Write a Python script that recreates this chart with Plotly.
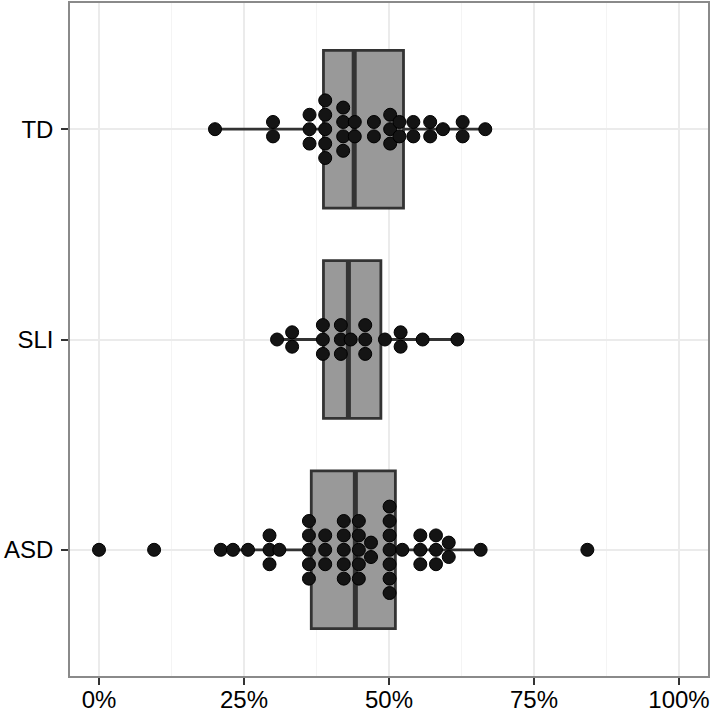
import plotly.graph_objects as go
from collections import Counter

# ---- data (percent values) ----
groups = ["ASD", "SLI", "TD"]
group_pos = [1, 2, 3]

td_values = [20.0, 30.0, 30.0, 36.3, 36.3, 36.3, 39.0, 39.0, 39.0, 39.0, 39.0,
             42.1, 42.1, 42.1, 42.1, 44.1, 44.1, 47.4, 47.4, 50.2, 50.2, 50.2,
             51.8, 51.8, 54.2, 54.2, 57.1, 57.1, 59.3, 62.7, 62.7, 66.6]
sli_values = [30.7, 33.3, 33.3, 38.6, 38.6, 38.6, 41.7, 41.7, 41.7, 43.4,
              45.9, 45.9, 45.9, 49.3, 52.0, 52.0, 55.8, 61.8]
asd_values = [0.0, 9.5, 21.0, 23.1, 25.7, 29.4, 29.4, 29.4, 31.1,
              36.2, 36.2, 36.2, 36.2, 36.2, 39.0, 39.0, 39.0,
              42.2, 42.2, 42.2, 42.2, 42.2, 44.8, 44.8, 44.8, 44.8, 44.8,
              46.9, 46.9, 50.1, 50.1, 50.1, 50.1, 50.1, 50.1, 50.1, 52.3,
              55.4, 55.4, 55.4, 58.1, 58.1, 58.1, 60.3, 60.3, 65.8, 84.2]

# box statistics (ASD, SLI, TD)
lower_fence = [21.0, 30.7, 20.0]
q1_vals = [36.6, 38.7, 38.7]
median_vals = [44.2, 43.0, 44.0]
q3_vals = [51.1, 48.6, 52.5]
upper_fence = [65.8, 61.8, 66.6]

x_tick_vals = [0, 25, 50, 75, 100]
x_tick_text = ["0%", "25%", "50%", "75%", "100%"]
x_minor_vals = [12.5, 37.5, 62.5, 87.5]

BOX_W = 0.75
DOT_STEP = 0.0685

fig = go.Figure()

fig.add_trace(go.Box(
    y=group_pos, q1=q1_vals, median=median_vals, q3=q3_vals,
    lowerfence=lower_fence, upperfence=upper_fence,
    orientation="h", width=BOX_W, whiskerwidth=0,
    fillcolor="#999999", line=dict(color="#333333", width=2.8),
    boxpoints=False, hoverinfo="skip", showlegend=False,
))

# thick median lines
for pos, med in zip(group_pos, median_vals):
    fig.add_trace(go.Scatter(
        x=[med, med], y=[pos - BOX_W / 2, pos + BOX_W / 2],
        mode="lines", line=dict(color="#333333", width=5),
        hoverinfo="skip", showlegend=False,
    ))

# centered dot stacks
for pos, vals in zip(group_pos, [asd_values, sli_values, td_values]):
    xs, ys = [], []
    counts = Counter(vals)
    for v in sorted(counts):
        n = counts[v]
        for i in range(n):
            xs.append(v)
            ys.append(pos + (i - (n - 1) / 2) * DOT_STEP)
    fig.add_trace(go.Scatter(
        x=xs, y=ys, mode="markers",
        marker=dict(size=13, color="#141414", line=dict(color="#000000", width=1)),
        hoverinfo="skip", showlegend=False,
    ))

fig.update_layout(
    width=714, height=713,
    margin=dict(l=70, r=6, t=3, b=37, autoexpand=False),
    paper_bgcolor="white", plot_bgcolor="white",
    font=dict(family="Liberation Sans, Arial, sans-serif", size=24, color="black"),
    showlegend=False,
)
fig.update_xaxes(
    range=[-5, 105], tickvals=x_tick_vals, ticktext=x_tick_text,
    showgrid=True, gridcolor="#ebebeb", gridwidth=1.5,
    minor=dict(tickvals=x_minor_vals, showgrid=True, gridcolor="#f4f4f4", gridwidth=1),
    zeroline=False, showline=True, linecolor="#8a8a8a", linewidth=1.5, mirror=True,
    ticks="outside", ticklen=7, tickwidth=2, tickcolor="#333333",
    ticklabelstandoff=-6, automargin=False,
)
fig.update_yaxes(
    range=[0.4, 3.6], tickvals=group_pos, ticktext=groups,
    showgrid=True, gridcolor="#ebebeb", gridwidth=1.5,
    zeroline=False, showline=True, linecolor="#8a8a8a", linewidth=1.5, mirror=True,
    ticks="outside", ticklen=7, tickwidth=2, tickcolor="#333333",
    ticklabelstandoff=3, automargin=False,
)

fig.write_html(
    "out.html",
    config={"displayModeBar": False},
    post_script="document.body.style.margin='0';document.body.style.overflow='hidden';",
)
